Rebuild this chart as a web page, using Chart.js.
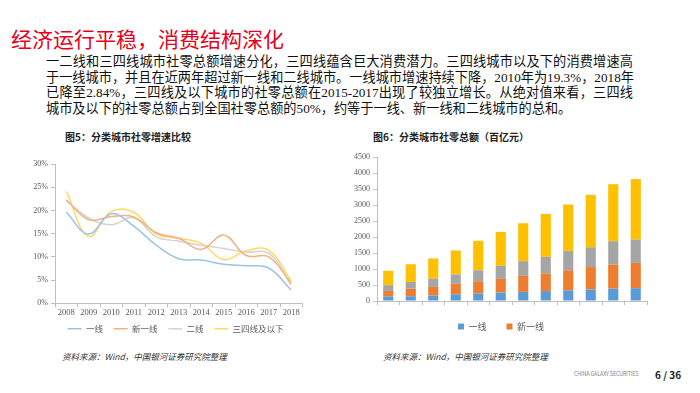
<!DOCTYPE html>
<html>
<head>
<meta charset="utf-8">
<script src="https://cdn.jsdelivr.net/npm/chart.js@4.4.0/dist/chart.umd.min.js"></script>
<style>
  body { margin: 0; width: 700px; height: 393px; background: #fff; position: relative; overflow: hidden;
         font-family: "Noto Sans CJK SC", sans-serif; }
  .abs { position: absolute; white-space: nowrap; }
  #title { left: 11px; top: 26px; font-size: 21px; line-height: 24px; color: #E60020; }
  #body { left: 46px; top: 54px; width: 587px; font-size: 13.2px; line-height: 15.6px; color: #111;
          font-family: "Liberation Serif", "Noto Sans CJK SC", serif; }
  #body div { text-align: justify; text-align-last: justify; }
  #body div.last { text-align-last: left; }
  .cap { font-size: 10px; font-weight: bold; color: #222; line-height: 12px; }
  .src { font-size: 8.5px; font-style: italic; color: #333; line-height: 10px; }
</style>
</head>
<body>
<div id="title" class="abs">经济运行平稳，消费结构深化</div>
<div id="body" class="abs">
  <div>一二线和三四线城市社零总额增速分化，三四线蕴含巨大消费潜力。三四线城市以及下的消费增速高</div>
  <div>于一线城市，并且在近两年超过新一线和二线城市。一线城市增速持续下降，2010年为19.3%，2018年</div>
  <div>已降至2.84%，三四线及以下城市的社零总额在2015-2017出现了较独立增长。从绝对值来看，三四线</div>
  <div class="last">城市及以下的社零总额占到全国社零总额的50%，约等于一线、新一线和二线城市的总和。</div>
</div>
<div class="abs cap" style="left:65px; top:131px;">图5：分类城市社零增速比较</div>
<div class="abs cap" style="left:373px; top:131px;">图6：分类城市社零总额（百亿元）</div>

<div class="abs" style="left:20px; top:150px; width:315px; height:193px;"><canvas id="growth-chart"></canvas></div>
<div class="abs" style="left:345px; top:143px; width:312px; height:198px;"><canvas id="sales-chart"></canvas></div>

<div class="abs src" style="left:62px; top:351px;">资料来源：Wind，中国银河证券研究院整理</div>
<div class="abs src" style="left:383px; top:351px;">资料来源：Wind，中国银河证券研究院整理</div>
<div class="abs" style="left:574px; top:370px; font-size:5.5px; color:#888; letter-spacing:-0.2px;">CHINA GALAXY SECURITIES</div>
<div class="abs" style="left:655px; top:367px; font-size:10px; font-weight:bold; color:#222;">6 / 36</div>

<script>
// Growth chart (图5) - yearly retail sales growth, %
const growthYears = ["2008", "2009", "2010", "2011", "2012", "2013", "2014", "2015", "2016", "2017", "2018"];
const tier1Growth = [19.6, 14.9, 19.3, 16.6, 12.5, 9.6, 9.3, 8.4, 8.1, 7.6, 2.84];
const newTier1Growth = [22.3, 18.0, 18.7, 18.6, 15.2, 14.0, 11.6, 14.7, 10.3, 10.0, 4.3];
const tier2Growth = [22.1, 18.4, 16.9, 18.4, 14.3, 13.4, 12.5, 11.8, 11.0, 10.8, 3.9];
const tier34Growth = [24.1, 14.4, 19.8, 19.6, 14.9, 14.0, 12.9, 9.4, 11.3, 11.4, 4.8];

// Sales chart (图6) - retail sales totals, 百亿元
const salesYears = ["2007", "2008", "2009", "2010", "2011", "2012", "2013", "2014", "2015", "2016", "2017", "2018"];
const tier1Sales = [140, 150, 170, 210, 230, 265, 285, 310, 330, 360, 385, 400];
const newTier1Sales = [175, 235, 270, 330, 385, 425, 500, 550, 630, 700, 750, 790];
const tier2Sales = [180, 210, 260, 290, 345, 410, 460, 520, 600, 620, 735, 730];
const tier34Sales = [450, 555, 630, 750, 920, 1060, 1185, 1340, 1455, 1640, 1780, 1890];

const seriesNames = ["一线", "新一线", "二线", "三四线及以下"];

const tickFont = { family: "'Liberation Serif', 'Noto Sans CJK SC', serif", size: 8 };
const axisGray = "#BFBFBF";
const labelGray = "#595959";

function lineSet(label, data, color)
{
  return {
    label: label,
    data: data,
    borderColor: color,
    backgroundColor: color,
    borderWidth: 1.5,
    pointRadius: 0,
    pointStyle: "line",
    tension: 0.4,
    fill: false
  };
}

new Chart(document.getElementById("growth-chart"), {
  type: "line",
  data: {
    labels: growthYears,
    datasets: [
      lineSet(seriesNames[0], tier1Growth, "#9DC3E6"),
      lineSet(seriesNames[1], newTier1Growth, "#F4B183"),
      lineSet(seriesNames[2], tier2Growth, "#D3D3D3"),
      lineSet(seriesNames[3], tier34Growth, "#FFD966")
    ]
  },
  options: {
    responsive: true,
    maintainAspectRatio: false,
    animation: false,
    layout: { padding: { top: 14, left: 0, right: 0, bottom: 0 } },
    plugins: {
      tooltip: { enabled: false },
      legend: {
        position: "bottom",
        labels: {
          usePointStyle: true,
          pointStyleWidth: 14,
          padding: 7,
          color: labelGray,
          font: { family: "'Noto Sans CJK SC', sans-serif", size: 8.5 },
          // a little extra room after each entry, as in the slide
          generateLabels: chart => Chart.defaults.plugins.legend.labels.generateLabels(chart)
            .map(item => Object.assign(item, { text: item.text + "  " }))
        }
      }
    },
    scales: {
      x: {
        offset: true,
        grid: { display: true, offset: true, drawOnChartArea: false, drawTicks: true, tickLength: 4, color: axisGray },
        border: { display: true, color: axisGray },
        ticks: { color: labelGray, font: { family: tickFont.family, size: 8.5 }, padding: 0, maxRotation: 0, autoSkip: false }
      },
      y: {
        min: 0,
        max: 30,
        grid: { display: true, drawOnChartArea: false, drawTicks: true, tickLength: 4, color: axisGray },
        border: { display: true, color: axisGray },
        ticks: { stepSize: 5, color: labelGray, font: tickFont, padding: 3, callback: v => v + "%" },
        afterFit: s => { s.width = 35; }
      },
      // spacer on the right so the legend stays centred under the plot
      yRight: {
        type: "linear",
        position: "right",
        grid: { display: false },
        border: { display: false },
        ticks: { display: false },
        afterFit: s => { s.width = 32.5; }
      }
    }
  }
});

function barSet(label, data, color)
{
  return {
    label: label,
    data: data,
    backgroundColor: color,
    borderWidth: 0,
    barPercentage: 0.45,
    categoryPercentage: 1.0
  };
}

new Chart(document.getElementById("sales-chart"), {
  type: "bar",
  data: {
    labels: salesYears,
    datasets: [
      barSet(seriesNames[0], tier1Sales, "#5B9BD5"),
      barSet(seriesNames[1], newTier1Sales, "#ED7D31"),
      barSet(seriesNames[2], tier2Sales, "#A5A5A5"),
      barSet(seriesNames[3], tier34Sales, "#FFC000")
    ]
  },
  options: {
    responsive: true,
    maintainAspectRatio: false,
    animation: false,
    layout: { padding: { top: 14, left: 0, right: 0, bottom: 0 } },
    plugins: {
      tooltip: { enabled: false },
      legend: {
        position: "bottom",
        labels: {
          boxWidth: 6,
          boxHeight: 6,
          padding: 20,
          color: labelGray,
          font: { family: "'Noto Sans CJK SC', sans-serif", size: 9 },
          // only the first two entries are visible in the source slide
          filter: item => item.datasetIndex < 2
        }
      }
    },
    scales: {
      x: {
        stacked: true,
        grid: { display: true, offset: true, drawOnChartArea: false, drawTicks: true, tickLength: 4, color: axisGray },
        border: { display: true, color: axisGray },
        ticks: { color: labelGray, font: tickFont, padding: 1, maxRotation: 0, autoSkip: false },
        afterFit: s => { s.height = 1; }
      },
      y: {
        stacked: true,
        min: 0,
        max: 4500,
        grid: { display: true, drawOnChartArea: false, drawTicks: true, tickLength: 4, color: axisGray },
        border: { display: true, color: axisGray },
        ticks: { stepSize: 500, color: labelGray, font: tickFont, padding: 3, callback: v => String(v) },
        afterFit: s => { s.width = 32; }
      },
      yRight: {
        type: "linear",
        position: "right",
        grid: { display: false },
        border: { display: false },
        ticks: { display: false },
        afterFit: s => { s.width = 10; }
      }
    }
  }
});
</script>
</body>
</html>
